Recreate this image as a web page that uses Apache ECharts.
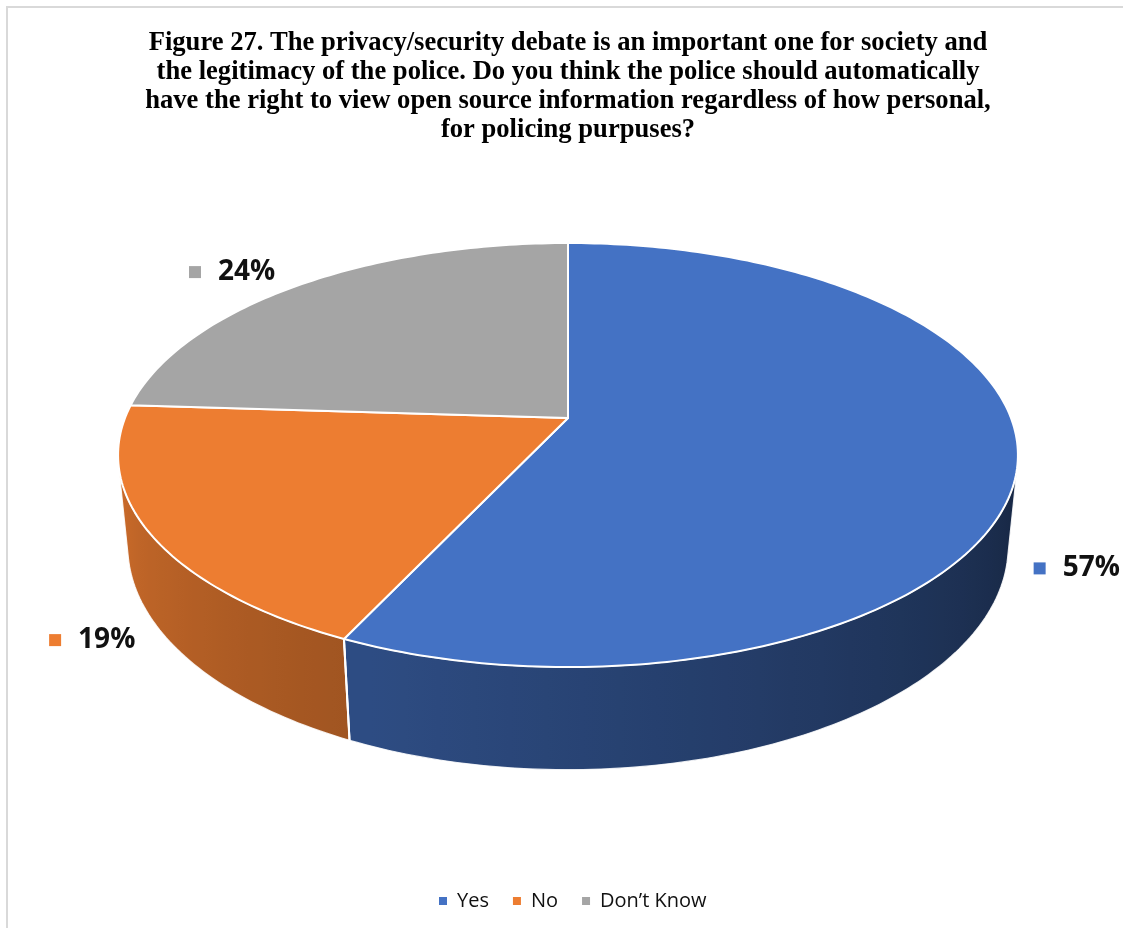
<!DOCTYPE html>
<html>
<head>
<meta charset="utf-8">
<script src="https://cdn.jsdelivr.net/npm/echarts@6/dist/echarts.min.js"></script>
<style>
html,body{margin:0;padding:0;background:#fff;}
#chart{width:1123px;height:928px;}
</style>
</head>
<body>
<div id="chart"></div>
<script>
// ---- data ----
const categories = ['Yes', 'No', 'Don\u2019t Know'];
const values = [57, 19, 24];
const colors = ['#4472C4', '#ED7D31', '#A5A5A5'];
const titleText = 'Figure 27. The privacy/security debate is an important one for society and\nthe legitimacy of the police. Do you think the police should automatically\nhave the right to view open source information regardless of how personal,\nfor policing purpuses?';

// ---- 3D view parameters (layout only) ----
const CX = 568, CY = 418, K = 443;
const SIN_A = 0.464, COS_A = 0.886, DIST = 5.07, H = 0.235;
const VIS_LO = Math.acos(-1 / (DIST * COS_A)) * 180 / Math.PI;
const VIS_HI = 360 - VIS_LO;

function proj(phiDeg, Y) {
  const p = phiDeg * Math.PI / 180;
  const X = Math.sin(p), Z = Math.cos(p);
  const d = -Y * SIN_A + Z * COS_A;
  const s = DIST / (DIST + d);
  const v = Y * COS_A + Z * SIN_A;
  return [CX + K * X * s, CY - K * v * s];
}
function shade(hex, phi) {
  let f = 0.40 + (phi - 120) * 0.44 / 135;
  f = Math.max(0.36, Math.min(0.88, f));
  const n = parseInt(hex.slice(1), 16);
  const r = Math.round(((n >> 16) & 255) * f);
  const g = Math.round(((n >> 8) & 255) * f);
  const b = Math.round((n & 255) * f);
  return 'rgb(' + r + ',' + g + ',' + b + ')';
}

const total = values.reduce((a, b) => a + b, 0);

function makeRender(i) {
  return function (params, api) {
    let before = 0;
    for (let j = 0; j < i; j++) before += values[j];
    const start = before / total * 360;
    const end = start + api.value(0) / total * 360;
    const color = colors[i];
    const children = [];
    // side wall (visible front part) as one polygon with horizontal gradient
    const lo = Math.max(start, VIS_LO), hi = Math.min(end, VIS_HI);
    if (hi > lo) {
      const n = Math.max(2, Math.ceil((hi - lo) / 1));
      const top = [], bot = [];
      for (let k = 0; k <= n; k++) {
        const phi = lo + (hi - lo) * k / n;
        top.push(proj(phi, 0));
        bot.push(proj(phi, -H));
      }
      const poly = top.concat(bot.slice().reverse());
      let xmin = Infinity, xmax = -Infinity;
      poly.forEach(function (p) { xmin = Math.min(xmin, p[0]); xmax = Math.max(xmax, p[0]); });
      const stops = [];
      for (let k = 0; k <= n; k += Math.max(1, Math.floor(n / 24))) {
        const phi = lo + (hi - lo) * k / n;
        const x = (top[k][0] + bot[k][0]) / 2;
        stops.push({ offset: Math.max(0, Math.min(1, (x - xmin) / (xmax - xmin))), color: shade(color, phi) });
      }
      stops.sort(function (a, b) { return a.offset - b.offset; });
      children.push({
        type: 'polygon', z2: 1,
        shape: { points: poly },
        style: {
          fill: new echarts.graphic.LinearGradient(xmin, 0, xmax, 0, stops, true),
          stroke: 'rgba(255,255,255,0.85)', lineWidth: 1.2
        }
      });
      [start, end].forEach(function (phi) {
        if (phi >= VIS_LO && phi <= VIS_HI) {
          const t = proj(phi, 0), bt = proj(phi, -H);
          children.push({
            type: 'line', z2: 3,
            shape: { x1: t[0], y1: t[1], x2: bt[0], y2: bt[1] },
            style: { stroke: '#fff', lineWidth: 2 }
          });
        }
      });
    }
    // top face
    const pts = [[CX, CY]];
    const m = Math.max(2, Math.ceil((end - start) / 1));
    for (let k = 0; k <= m; k++) pts.push(proj(start + (end - start) * k / m, 0));
    children.push({
      type: 'polygon', z2: 5,
      shape: { points: pts },
      style: { fill: color, stroke: '#fff', lineWidth: 2, lineJoin: 'round' }
    });
    // label
    const mid = (start + end) / 2;
    const mr = mid * Math.PI / 180;
    const front = Math.cos(mr) < 0;
    const anc = front ? proj(mid, -H) : proj(mid, 0);
    const lx = anc[0] + 68 * Math.sign(Math.sin(mr));
    const ly = anc[1] + (front ? 11 : -13);
    children.push({
      type: 'rect', z2: 6,
      shape: { x: lx - 42, y: ly - 6, width: 12, height: 12 },
      style: { fill: color }
    });
    children.push({
      type: 'text', z2: 6,
      x: lx - 13, y: ly,
      style: {
        text: Math.round(api.value(0)) + '%',
        fill: '#111', font: 'bold 28px "Open Sans"',
        textAlign: 'left', textVerticalAlign: 'middle'
      }
    });
    return { type: 'group', children: children };
  };
}

const chart = echarts.init(document.getElementById('chart'), null, { renderer: 'canvas' });
chart.setOption({
  animation: false,
  backgroundColor: '#fff',
  title: {
    text: titleText,
    left: 568, top: 29, textAlign: 'center', padding: 0,
    textStyle: {
      fontFamily: '"Liberation Serif", "Times New Roman", serif',
      fontWeight: 'bold', fontSize: 26.6, lineHeight: 29, color: '#000'
    }
  },
  legend: {
    data: categories,
    left: 434, top: 884,
    icon: 'rect', itemWidth: 8, itemHeight: 8, itemGap: 24,
    textStyle: { fontFamily: '"Open Sans"', fontSize: 20, color: '#111', lineHeight: 24, padding: [0, 0, 0, 5] }
  },
  graphic: [{
    type: 'rect', silent: true, z: -1,
    shape: { x: 7, y: 7, width: 1300, height: 1100 },
    style: { fill: null, stroke: '#d9d9d9', lineWidth: 2 }
  }],
  series: categories.map(function (name, i) {
    return {
      type: 'custom', name: name,
      coordinateSystem: 'none',
      itemStyle: { color: colors[i] },
      data: [[values[i]]],
      renderItem: makeRender(i)
    };
  })
});
</script>
</body>
</html>
